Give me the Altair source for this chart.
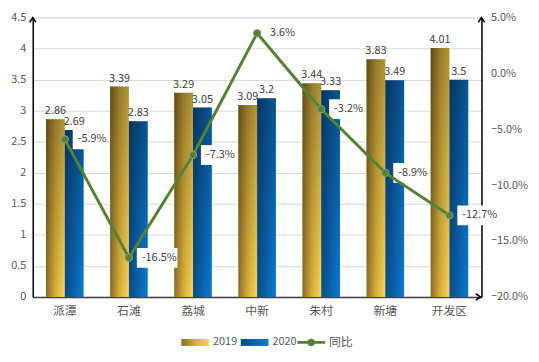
import altair as alt
import pandas as pd

cats = ["派潭", "石滩", "荔城", "中新", "朱村", "新塘", "开发区"]
v2019 = [2.86, 3.39, 3.29, 3.09, 3.44, 3.83, 4.01]
v2020 = [2.69, 2.83, 3.05, 3.2, 3.33, 3.49, 3.5]
yoy = [-5.9, -16.5, -7.3, 3.6, -3.2, -8.9, -12.7]
bar_series = ["2019", "2020"]
line_series = ["同比"]
left_ticks = [0, 0.5, 1, 1.5, 2, 2.5, 3, 3.5, 4, 4.5]
right_ticks = [-20, -15, -10, -5, 0, 5]

bars_df = pd.DataFrame({
    "cat": cats * 2,
    "series": ["2019"] * len(cats) + ["2020"] * len(cats),
    "value": v2019 + v2020,
})
bars_df["label"] = [f"{v:g}" for v in bars_df["value"]]
line_df = pd.DataFrame({"cat": cats, "series": "同比", "yoy": yoy})
line_df["label"] = [f"{v:.1f}%" for v in yoy]
one_df = pd.DataFrame({"k": [0]})

FONT = "Noto Sans CJK SC"
GREEN = "#548235"
LABEL = "#404040"
AXIS_LABEL = "#595959"
W, H = 453, 282


def grad_expr(c0, c1, c2):
    return {"expr": ("{gradient: 'linear', x1: 0, y1: 0, x2: 1, y2: 0, stops: ["
                     f"{{offset: 0, color: '{c0}'}}, {{offset: 0.5, color: '{c1}'}}, "
                     f"{{offset: 1, color: '{c2}'}}]}}")}


g2019 = grad_expr("#8a6d24", "#d6ae3d", "#fcd551")
g2020 = grad_expr("#0a4c86", "#0a63ad", "#0a7bd4")
shade = {"gradient": "linear", "x1": 0, "y1": 0, "x2": 0, "y2": 1,
         "stops": [{"offset": 0, "color": "rgba(0,0,0,0.30)"},
                   {"offset": 1, "color": "rgba(0,0,0,0)"}]}

x_enc = alt.X("cat:N", sort=cats,
              scale=alt.Scale(paddingInner=0.413, paddingOuter=0.2065),
              axis=alt.Axis(title=None, labelAngle=0, ticks=False, domainColor="#404040",
                            domainWidth=1.5, labelFontSize=12, labelColor=AXIS_LABEL,
                            labelPadding=9, labelFont=FONT, grid=False))
xoff = alt.XOffset("series:N", sort=bar_series,
                   scale=alt.Scale(paddingInner=0, paddingOuter=0))
y_left = alt.Y("value:Q", scale=alt.Scale(domain=[0, 4.5], nice=False, zero=True),
               axis=alt.Axis(values=left_ticks, format="~g", title=None, grid=True,
                             gridColor="#d9d9d9", domainColor="#000000", domainWidth=1.5,
                             ticks=False, labelPadding=7, labelFontSize=11,
                             labelColor=AXIS_LABEL, labelFont=FONT))
y_right = alt.Y("yoy:Q", scale=alt.Scale(domain=[-20, 5], nice=False, zero=False),
                axis=alt.Axis(orient="right", values=right_ticks,
                              labelExpr="format(datum.value, '.1f') + '%'", title=None,
                              grid=False, domainColor="#000000", domainWidth=1.5,
                              ticks=False, labelPadding=9, labelFontSize=11,
                              labelColor=AXIS_LABEL, labelFont=FONT))

rect_path = "M-1,-0.25H1V0.25H-1Z"
line_path = ("M-1,-0.1H-0.27L-0.2,-0.2L0,-0.28L0.2,-0.2L0.27,-0.1H1V0.1H0.27"
             "L0.2,0.2L0,0.28L-0.2,0.2L-0.27,0.1H-1Z")

bar_legend = alt.Legend(
    title=None, orient="none", legendX=150, legendY=314, direction="horizontal",
    symbolType=rect_path, symbolSize=784, labelFontSize=11, labelColor=AXIS_LABEL,
    labelFont=FONT, columnPadding=3, labelOffset=4, padding=0, symbolStrokeWidth=0,
)
line_legend = alt.Legend(
    title=None, orient="none", legendX=267, legendY=314, direction="horizontal",
    symbolType=line_path, symbolSize=784, labelFontSize=12, labelColor=AXIS_LABEL,
    labelFont=FONT, labelOffset=4, padding=0, symbolStrokeWidth=0, symbolOpacity=1,
)

bars = alt.Chart(bars_df).mark_bar(strokeWidth=0).encode(
    x=x_enc, xOffset=xoff, y=y_left,
    fill=alt.Fill("series:N", scale=alt.Scale(domain=bar_series, range=[g2019, g2020]),
                  legend=bar_legend),
)
overlay = alt.Chart(bars_df).mark_bar(fill=shade, strokeWidth=0).encode(
    x=x_enc, xOffset=xoff, y=y_left,
)
bar_labels = alt.Chart(bars_df).mark_text(
    baseline="bottom", dy=-3, fontSize=11, color=LABEL, font=FONT
).encode(x=x_enc, xOffset=xoff, y=y_left, text="label:N")

# axis arrowheads (decoration of the axis lines)
up_arrow = "M-1,1.5L0,0L1,1.5"
right_arrow = "M-1.5,-1L0,0L-1.5,1"
arrow_style = dict(filled=False, stroke="#000000", strokeWidth=1.5, size=30, opacity=1,
                   strokeCap="square", strokeJoin="miter")
arrow_left = alt.Chart(one_df).mark_point(shape=up_arrow, **arrow_style).encode(
    x=alt.value(0), y=alt.value(0))
arrow_right = alt.Chart(one_df).mark_point(shape=up_arrow, **arrow_style).encode(
    x=alt.value(W), y=alt.value(0))
arrow_x = alt.Chart(one_df).mark_point(shape=right_arrow, **arrow_style).encode(
    x=alt.value(W - 1), y=alt.value(H))

left = alt.layer(bars, overlay, bar_labels)

line = alt.Chart(line_df).mark_line(strokeWidth=3, color=GREEN).encode(x=x_enc, y=y_right)
boxes = alt.Chart(line_df).transform_calculate(
    box="'M8,-10H' + (10 * length(datum.label) - 11) + 'V10H8Z'"
).mark_point(filled=True, fill="white", opacity=1, size=4, strokeWidth=0).encode(
    x=x_enc, y=y_right, shape=alt.Shape("box:N", scale=None, legend=None),
)
points = alt.Chart(line_df).mark_point(
    filled=True, size=55, stroke="#8a9a80", strokeWidth=1, opacity=1
).encode(
    x=x_enc, y=y_right,
    color=alt.Color("series:N", scale=alt.Scale(domain=line_series, range=[GREEN]),
                    legend=line_legend),
)
line_labels = alt.Chart(line_df).mark_text(
    align="left", baseline="middle", dx=13, fontSize=11, color=LABEL, font=FONT
).encode(x=x_enc, y=y_right, text="label:N")

right = alt.layer(boxes, line, points, line_labels)

chart = alt.layer(left, right, arrow_left, arrow_right, arrow_x).resolve_scale(
    y="independent"
).properties(
    width=W, height=H,
    autosize=alt.AutoSizeParams(type="none"),
    padding={"left": 25, "top": 8, "right": 50, "bottom": 56},
).configure_view(stroke=None).configure(font=FONT)

chart.save("out.html", embed_options={"renderer": "svg", "actions": False})
